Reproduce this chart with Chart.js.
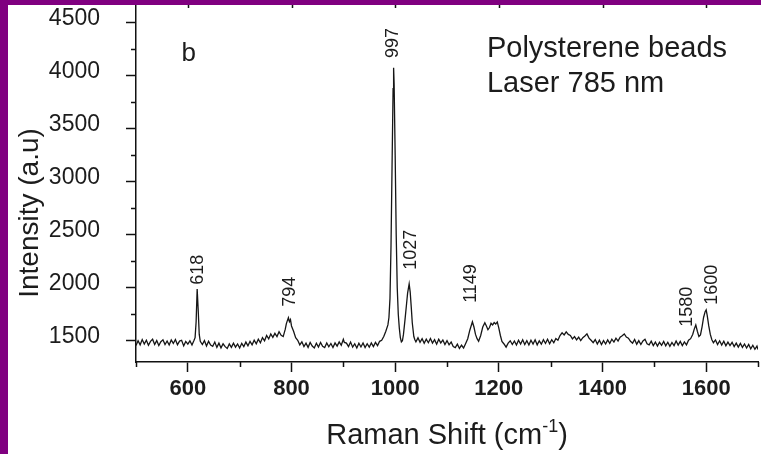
<!DOCTYPE html>
<html>
<head>
<meta charset="utf-8">
<script src="https://cdn.jsdelivr.net/npm/chart.js@4/dist/chart.umd.min.js"></script>
<style>
  html, body { margin: 0; padding: 0; background: #fff; }
  #wrap { position: relative; width: 761px; height: 454px; overflow: hidden; background: #fff; }
  #wrap canvas { position: absolute; left: 0; top: 0; }
  .band { position: absolute; background: #800080; }
</style>
</head>
<body>
<div id="wrap">
  <canvas id="c" width="761" height="454"></canvas>
  <div class="band" style="left:0;top:0;width:761px;height:5px"></div>
  <div class="band" style="left:0;top:0;width:8px;height:454px"></div>
</div>
<script>
// Raman shift (cm-1) and measured intensity (a.u.) of the polystyrene spectrum
const ramanShift = [
  500, 504, 508, 512, 516, 520, 524, 528, 532, 536,
  540, 544, 548, 552, 556, 560, 564, 568, 572, 576,
  580, 584, 588, 592, 596, 600, 604, 608, 612, 614,
  616, 618, 620, 622, 624, 628, 632, 636, 640, 644,
  648, 652, 656, 660, 664, 668, 672, 676, 680, 684,
  688, 692, 696, 700, 704, 708, 712, 716, 720, 724,
  728, 732, 736, 740, 744, 748, 752, 756, 760, 764,
  768, 772, 776, 780, 784, 788, 790, 792, 794, 796,
  798, 800, 804, 808, 812, 816, 820, 824, 828, 832,
  836, 840, 844, 848, 852, 856, 860, 864, 868, 872,
  876, 880, 884, 888, 892, 896, 900, 902, 906, 910,
  914, 918, 922, 926, 930, 934, 938, 942, 946, 950,
  954, 958, 962, 966, 970, 974, 978, 982, 986, 988,
  990, 992, 994, 996, 997, 998, 1000, 1002, 1004, 1006,
  1008, 1010, 1012, 1014, 1016, 1019, 1022, 1024, 1027, 1029,
  1031, 1033, 1036, 1038, 1040, 1044, 1048, 1052, 1056, 1060,
  1064, 1068, 1072, 1076, 1080, 1084, 1088, 1092, 1096, 1100,
  1104, 1108, 1112, 1116, 1120, 1124, 1128, 1132, 1136, 1140,
  1144, 1149, 1152, 1155, 1158, 1161, 1165, 1169, 1173, 1176,
  1179, 1182, 1185, 1188, 1191, 1194, 1197, 1200, 1203, 1206,
  1210, 1214, 1218, 1222, 1226, 1230, 1234, 1238, 1242, 1246,
  1250, 1254, 1258, 1262, 1266, 1270, 1274, 1278, 1282, 1286,
  1290, 1294, 1298, 1302, 1306, 1310, 1314, 1318, 1322, 1326,
  1330, 1334, 1338, 1342, 1346, 1350, 1354, 1358, 1362, 1366,
  1370, 1374, 1378, 1382, 1386, 1390, 1394, 1398, 1402, 1406,
  1410, 1414, 1418, 1422, 1426, 1430, 1434, 1438, 1442, 1446,
  1450, 1454, 1458, 1462, 1466, 1470, 1474, 1478, 1482, 1486,
  1490, 1494, 1498, 1502, 1506, 1510, 1514, 1518, 1522, 1526,
  1530, 1534, 1538, 1542, 1546, 1550, 1554, 1558, 1562, 1566,
  1570, 1574, 1577, 1580, 1583, 1586, 1589, 1592, 1595, 1598,
  1600, 1602, 1605, 1608, 1611, 1614, 1618, 1622, 1626, 1630,
  1634, 1638, 1642, 1646, 1650, 1654, 1658, 1662, 1666, 1670,
  1674, 1678, 1682, 1686, 1690, 1694, 1698, 1700
];
const intensity = [
  1455, 1500, 1462, 1512, 1470, 1505, 1458, 1495, 1515, 1465,
  1502, 1455, 1492, 1510, 1465, 1498, 1460, 1508, 1475, 1512,
  1462, 1497, 1505, 1452, 1494, 1468, 1500, 1460, 1505, 1530,
  1680, 1988, 1790, 1560, 1495, 1465, 1502, 1450, 1495, 1460,
  1448, 1488, 1438, 1478, 1433, 1472, 1445, 1428, 1470, 1438,
  1478, 1440, 1470, 1432, 1476, 1445, 1488, 1452, 1495, 1462,
  1505, 1472, 1515, 1482, 1530, 1500, 1550, 1518, 1565, 1532,
  1570, 1540, 1585, 1552, 1540, 1610, 1660, 1690, 1717, 1680,
  1700, 1640, 1590, 1530, 1505, 1462, 1490, 1445, 1478, 1438,
  1485, 1450, 1432, 1478, 1442, 1485, 1448, 1436, 1480, 1444,
  1475, 1437, 1480, 1450, 1490, 1458, 1515, 1485, 1478, 1445,
  1488, 1440, 1472, 1432, 1478, 1442, 1480, 1436, 1472, 1440,
  1480, 1446, 1485, 1455, 1495, 1505, 1540, 1590, 1650, 1720,
  1900, 2400, 3150, 3880, 4075, 3920, 3250, 2500, 2000, 1750,
  1620, 1530, 1490, 1500, 1560, 1700, 1850, 1950, 2037, 1960,
  1820, 1670, 1540, 1510, 1490, 1528, 1485, 1520, 1476, 1515,
  1482, 1522, 1478, 1510, 1468, 1515, 1480, 1508, 1465, 1502,
  1462, 1488, 1446, 1436, 1468, 1428, 1458, 1432, 1475, 1520,
  1600, 1680, 1630, 1560, 1520, 1495, 1550, 1630, 1670, 1640,
  1605, 1625, 1665, 1650, 1672, 1658, 1678, 1620, 1550, 1495,
  1470, 1440, 1478, 1500, 1465, 1498, 1460, 1505, 1470, 1510,
  1465, 1502, 1460, 1505, 1470, 1510, 1462, 1500, 1468, 1510,
  1475, 1515, 1472, 1510, 1482, 1522, 1505, 1550, 1575, 1555,
  1585, 1560, 1550, 1518, 1540, 1508, 1535, 1502, 1530, 1545,
  1565, 1525, 1505, 1482, 1512, 1470, 1505, 1465, 1502, 1470,
  1508, 1475, 1515, 1488, 1525, 1498, 1535, 1548, 1565, 1535,
  1525, 1495, 1478, 1512, 1468, 1502, 1465, 1498, 1515, 1472,
  1462, 1496, 1455, 1488, 1450, 1486, 1458, 1494, 1452, 1486,
  1448, 1484, 1455, 1498, 1460, 1494, 1455, 1490, 1462, 1505,
  1520, 1560, 1610, 1650, 1590, 1540, 1555, 1630, 1720, 1775,
  1792, 1740, 1640, 1560, 1510, 1482, 1508, 1465, 1500, 1460,
  1496, 1452, 1488, 1455, 1486, 1445, 1478, 1440, 1476, 1438,
  1470, 1432, 1466, 1425, 1458, 1420, 1450, 1418
];

// Axis ticks
const xTickValues = [600, 800, 1000, 1200, 1400, 1600];
const xMinorValues = [500, 700, 900, 1100, 1300, 1500, 1700];
const yTickValues = [1500, 2000, 2500, 3000, 3500, 4000, 4500];
const yMinorValues = [1750, 2250, 2750, 3250, 3750, 4250];

// Peak annotations: label text, label anchor (shift, intensity)
const peakLabels = ['618', '794', '997', '1027', '1149', '1580', '1600'];
const peakLabelX = [620, 797, 996, 1030, 1146, 1563, 1611];
const peakLabelY = [2028, 1821, 4169, 2170, 1858, 1632, 1840];

const FONT = '"Liberation Sans", Arial, Helvetica, sans-serif';
const INK = '#1c1c1c';

const annotate = {
  id: 'annotate',
  afterDraw(chart) {
    const { ctx, chartArea: a, scales: { x, y } } = chart;
    ctx.save();

    // minor ticks and the top frame
    ctx.strokeStyle = '#111';
    ctx.lineWidth = 1.5;
    ctx.beginPath();
    xMinorValues.forEach(v => {
      const px = Math.round(x.getPixelForValue(v)) + 0.5;
      ctx.moveTo(px, a.bottom); ctx.lineTo(px, a.bottom + 5);
    });
    yMinorValues.forEach(v => {
      const py = Math.round(y.getPixelForValue(v)) + 0.5;
      ctx.moveTo(a.left - 5, py); ctx.lineTo(a.left, py);
    });
    ctx.moveTo(a.left, a.top); ctx.lineTo(a.right, a.top);
    xTickValues.forEach(v => {
      const px = Math.round(x.getPixelForValue(v)) + 0.5;
      ctx.moveTo(px, a.top); ctx.lineTo(px, a.top + 5);
    });
    ctx.stroke();

    // peak positions, written vertically
    ctx.fillStyle = INK;
    ctx.font = '18px ' + FONT;
    ctx.textAlign = 'left';
    ctx.textBaseline = 'middle';
    peakLabels.forEach((t, i) => {
      ctx.save();
      ctx.translate(x.getPixelForValue(peakLabelX[i]), y.getPixelForValue(peakLabelY[i]));
      ctx.rotate(-Math.PI / 2);
      ctx.fillText(t, 0, 0);
      ctx.restore();
    });

    // panel letter and sample description
    ctx.textBaseline = 'alphabetic';
    ctx.font = '26px ' + FONT;
    ctx.fillText('b', x.getPixelForValue(588), y.getPixelForValue(4140));
    ctx.font = '29px ' + FONT;
    ctx.fillText('Polysterene beads', x.getPixelForValue(1177), y.getPixelForValue(4177));
    ctx.fillText('Laser 785 nm', x.getPixelForValue(1177), y.getPixelForValue(3847));

    // x axis title with superscript
    const main = 'Raman Shift (cm', sup = '-1', tail = ')';
    ctx.font = '29px ' + FONT;
    const wMain = ctx.measureText(main).width;
    const wTail = ctx.measureText(tail).width;
    ctx.font = '18px ' + FONT;
    const wSup = ctx.measureText(sup).width;
    let tx = (a.left + a.right) / 2 - (wMain + wSup + wTail) / 2;
    const base = 444;
    ctx.font = '29px ' + FONT;
    ctx.fillText(main, tx, base);
    tx += wMain;
    ctx.font = '18px ' + FONT;
    ctx.fillText(sup, tx, base - 12);
    tx += wSup;
    ctx.font = '29px ' + FONT;
    ctx.fillText(tail, tx, base);

    // y axis title
    ctx.save();
    ctx.font = '28px ' + FONT;
    ctx.translate(38, 213);
    ctx.rotate(-Math.PI / 2);
    ctx.textAlign = 'center';
    ctx.fillText('Intensity (a.u)', 0, 0);
    ctx.restore();

    ctx.restore();
  }
};

new Chart(document.getElementById('c'), {
  type: 'line',
  data: {
    datasets: [{
      data: ramanShift.map((s, i) => ({ x: s, y: intensity[i] })),
      borderColor: '#151515',
      borderWidth: 1.3,
      pointRadius: 0,
      tension: 0,
      fill: false
    }]
  },
  options: {
    responsive: false,
    animation: false,
    devicePixelRatio: 1,
    layout: { padding: { top: 3, right: 3, left: 0, bottom: 0 } },
    plugins: { legend: { display: false }, tooltip: { enabled: false } },
    scales: {
      x: {
        type: 'linear',
        min: 500,
        max: 1700,
        afterBuildTicks: s => { s.ticks = xTickValues.map(v => ({ value: v })); },
        afterFit: s => { s.height = 92; s.paddingLeft = 0; s.paddingRight = 0; s.paddingTop = 0; s.paddingBottom = 0; },
        border: { display: true, color: '#111', width: 1.5 },
        grid: { drawOnChartArea: false, drawTicks: true, tickLength: 10, tickColor: '#111', tickWidth: 1.5 },
        ticks: {
          padding: 4,
          color: INK,
          maxRotation: 0,
          autoSkip: false,
          callback: v => String(v),
          font: { family: FONT, size: 22, weight: 'bold' }
        }
      },
      y: {
        type: 'linear',
        min: 1300,
        max: 4687,
        afterBuildTicks: s => { s.ticks = yTickValues.map(v => ({ value: v })); },
        afterFit: s => { s.width = 136; s.paddingLeft = 0; s.paddingRight = 0; s.paddingTop = 0; s.paddingBottom = 0; },
        border: { display: true, color: '#111', width: 1.5 },
        grid: { drawOnChartArea: false, drawTicks: true, tickLength: 10, tickColor: '#111', tickWidth: 1.5 },
        ticks: {
          padding: 26,
          labelOffset: -4,
          color: INK,
          autoSkip: false,
          callback: v => String(v),
          font: { family: FONT, size: 23 }
        }
      }
    }
  },
  plugins: [annotate]
});
</script>
</body>
</html>
